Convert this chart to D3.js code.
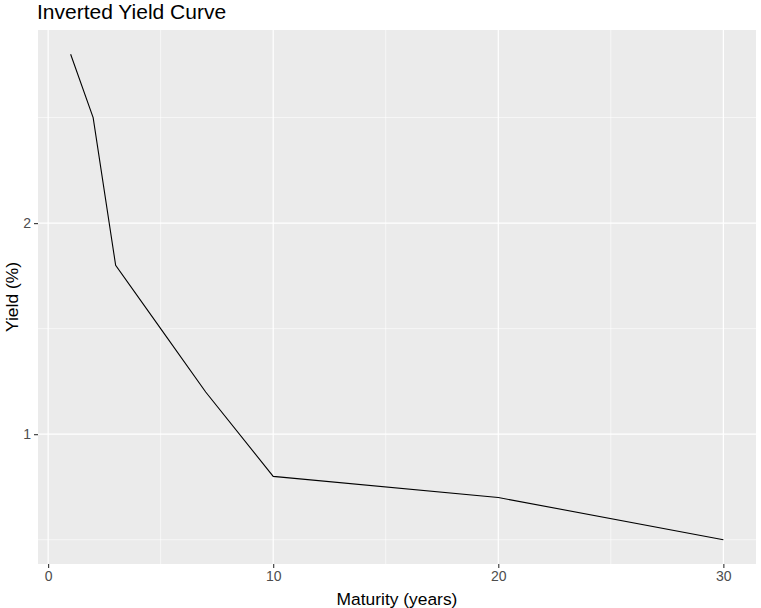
<!DOCTYPE html>
<html>
<head>
<meta charset="utf-8">
<script src="https://cdn.jsdelivr.net/npm/d3@7"></script>
<style>
  body { margin: 0; background: #fff; }
  text { font-family: "Liberation Sans", Arial, sans-serif; }
</style>
</head>
<body>
<div id="viz"></div>
<script>

// maturities in years and yields in percent
let maturity = [1, 2, 3, 5, 7, 10, 20, 30];
let yieldPct = [2.8, 2.5, 1.8, 1.5, 1.2, 0.8, 0.7, 0.5];

let xTicks = [0, 10, 20, 30];
let xMinor = [5, 15, 25];
let yTicks = [1, 2];
let yMinor = [0.5, 1.5, 2.5];

let data = maturity.map((m, i) => ({ m: m, y: yieldPct[i] }));

let dimensions = {
    width: 761,
    height: 608,
    margins: { top: 30, right: 5, bottom: 44, left: 38 }
};
dimensions.boundedWidth = dimensions.width - dimensions.margins.left - dimensions.margins.right;
dimensions.boundedHeight = dimensions.height - dimensions.margins.top - dimensions.margins.bottom;

const svg = d3.select('#viz').append('svg')
    .attr('width', dimensions.width)
    .attr('height', dimensions.height);

const bounds = svg.append('g')
    .attr('transform', `translate(${dimensions.margins.left},${dimensions.margins.top})`);

// ggplot style 5% expansion on both sides
const xExt = d3.extent(maturity);
const xPad = (xExt[1] - xExt[0]) * 0.05;
const yExt = d3.extent(yieldPct);
const yPad = (yExt[1] - yExt[0]) * 0.05;

const xScale = d3.scaleLinear()
    .domain([xExt[0] - xPad, xExt[1] + xPad])
    .range([0, dimensions.boundedWidth]);

const yScale = d3.scaleLinear()
    .domain([yExt[0] - yPad, yExt[1] + yPad])
    .range([dimensions.boundedHeight, 0]);

// panel
bounds.append('rect')
    .attr('width', dimensions.boundedWidth)
    .attr('height', dimensions.boundedHeight)
    .attr('fill', '#EBEBEB');

// minor grid
bounds.selectAll('.xminor').data(xMinor).join('line')
    .attr('x1', d => xScale(d)).attr('x2', d => xScale(d))
    .attr('y1', 0).attr('y2', dimensions.boundedHeight)
    .attr('stroke', '#fff').attr('stroke-width', 0.6);
bounds.selectAll('.yminor').data(yMinor).join('line')
    .attr('y1', d => yScale(d)).attr('y2', d => yScale(d))
    .attr('x1', 0).attr('x2', dimensions.boundedWidth)
    .attr('stroke', '#fff').attr('stroke-width', 0.6);

// major grid
bounds.selectAll('.xmajor').data(xTicks).join('line')
    .attr('x1', d => xScale(d)).attr('x2', d => xScale(d))
    .attr('y1', 0).attr('y2', dimensions.boundedHeight)
    .attr('stroke', '#fff').attr('stroke-width', 1.2);
bounds.selectAll('.ymajor').data(yTicks).join('line')
    .attr('y1', d => yScale(d)).attr('y2', d => yScale(d))
    .attr('x1', 0).attr('x2', dimensions.boundedWidth)
    .attr('stroke', '#fff').attr('stroke-width', 1.2);

// the curve
const series = d3.line()
    .x(d => xScale(d.m))
    .y(d => yScale(d.y));

bounds.append('path')
    .datum(data)
    .attr('d', series)
    .attr('fill', 'none')
    .attr('stroke', '#000')
    .attr('stroke-width', 1.1);

// axes
const xAxis = bounds.append('g')
    .attr('transform', `translate(0,${dimensions.boundedHeight})`)
    .call(d3.axisBottom(xScale).tickValues(xTicks).tickFormat(d3.format('d')).tickSize(4).tickPadding(3));

const yAxis = bounds.append('g')
    .call(d3.axisLeft(yScale).tickValues(yTicks).tickFormat(d3.format('d')).tickSize(4).tickPadding(3));

[xAxis, yAxis].forEach(ax => {
    ax.select('.domain').remove();
    ax.selectAll('line').attr('stroke', '#333').attr('stroke-width', 1.1);
    ax.selectAll('text')
        .attr('fill', '#4D4D4D')
        .style('font-size', '14px')
        .style('font-family', '"Liberation Sans", Arial, sans-serif');
});

// titles
svg.append('text')
    .attr('x', 37)
    .attr('y', 19)
    .attr('fill', '#000')
    .style('font-size', '21px')
    .text('Inverted Yield Curve');

svg.append('text')
    .attr('x', dimensions.margins.left + dimensions.boundedWidth / 2)
    .attr('y', 605)
    .attr('text-anchor', 'middle')
    .attr('fill', '#000')
    .style('font-size', '17.4px')
    .text('Maturity (years)');

svg.append('text')
    .attr('transform', `translate(18,${dimensions.margins.top + dimensions.boundedHeight / 2}) rotate(-90)`)
    .attr('text-anchor', 'middle')
    .attr('fill', '#000')
    .style('font-size', '17.4px')
    .text('Yield (%)');

</script>
</body>
</html>
